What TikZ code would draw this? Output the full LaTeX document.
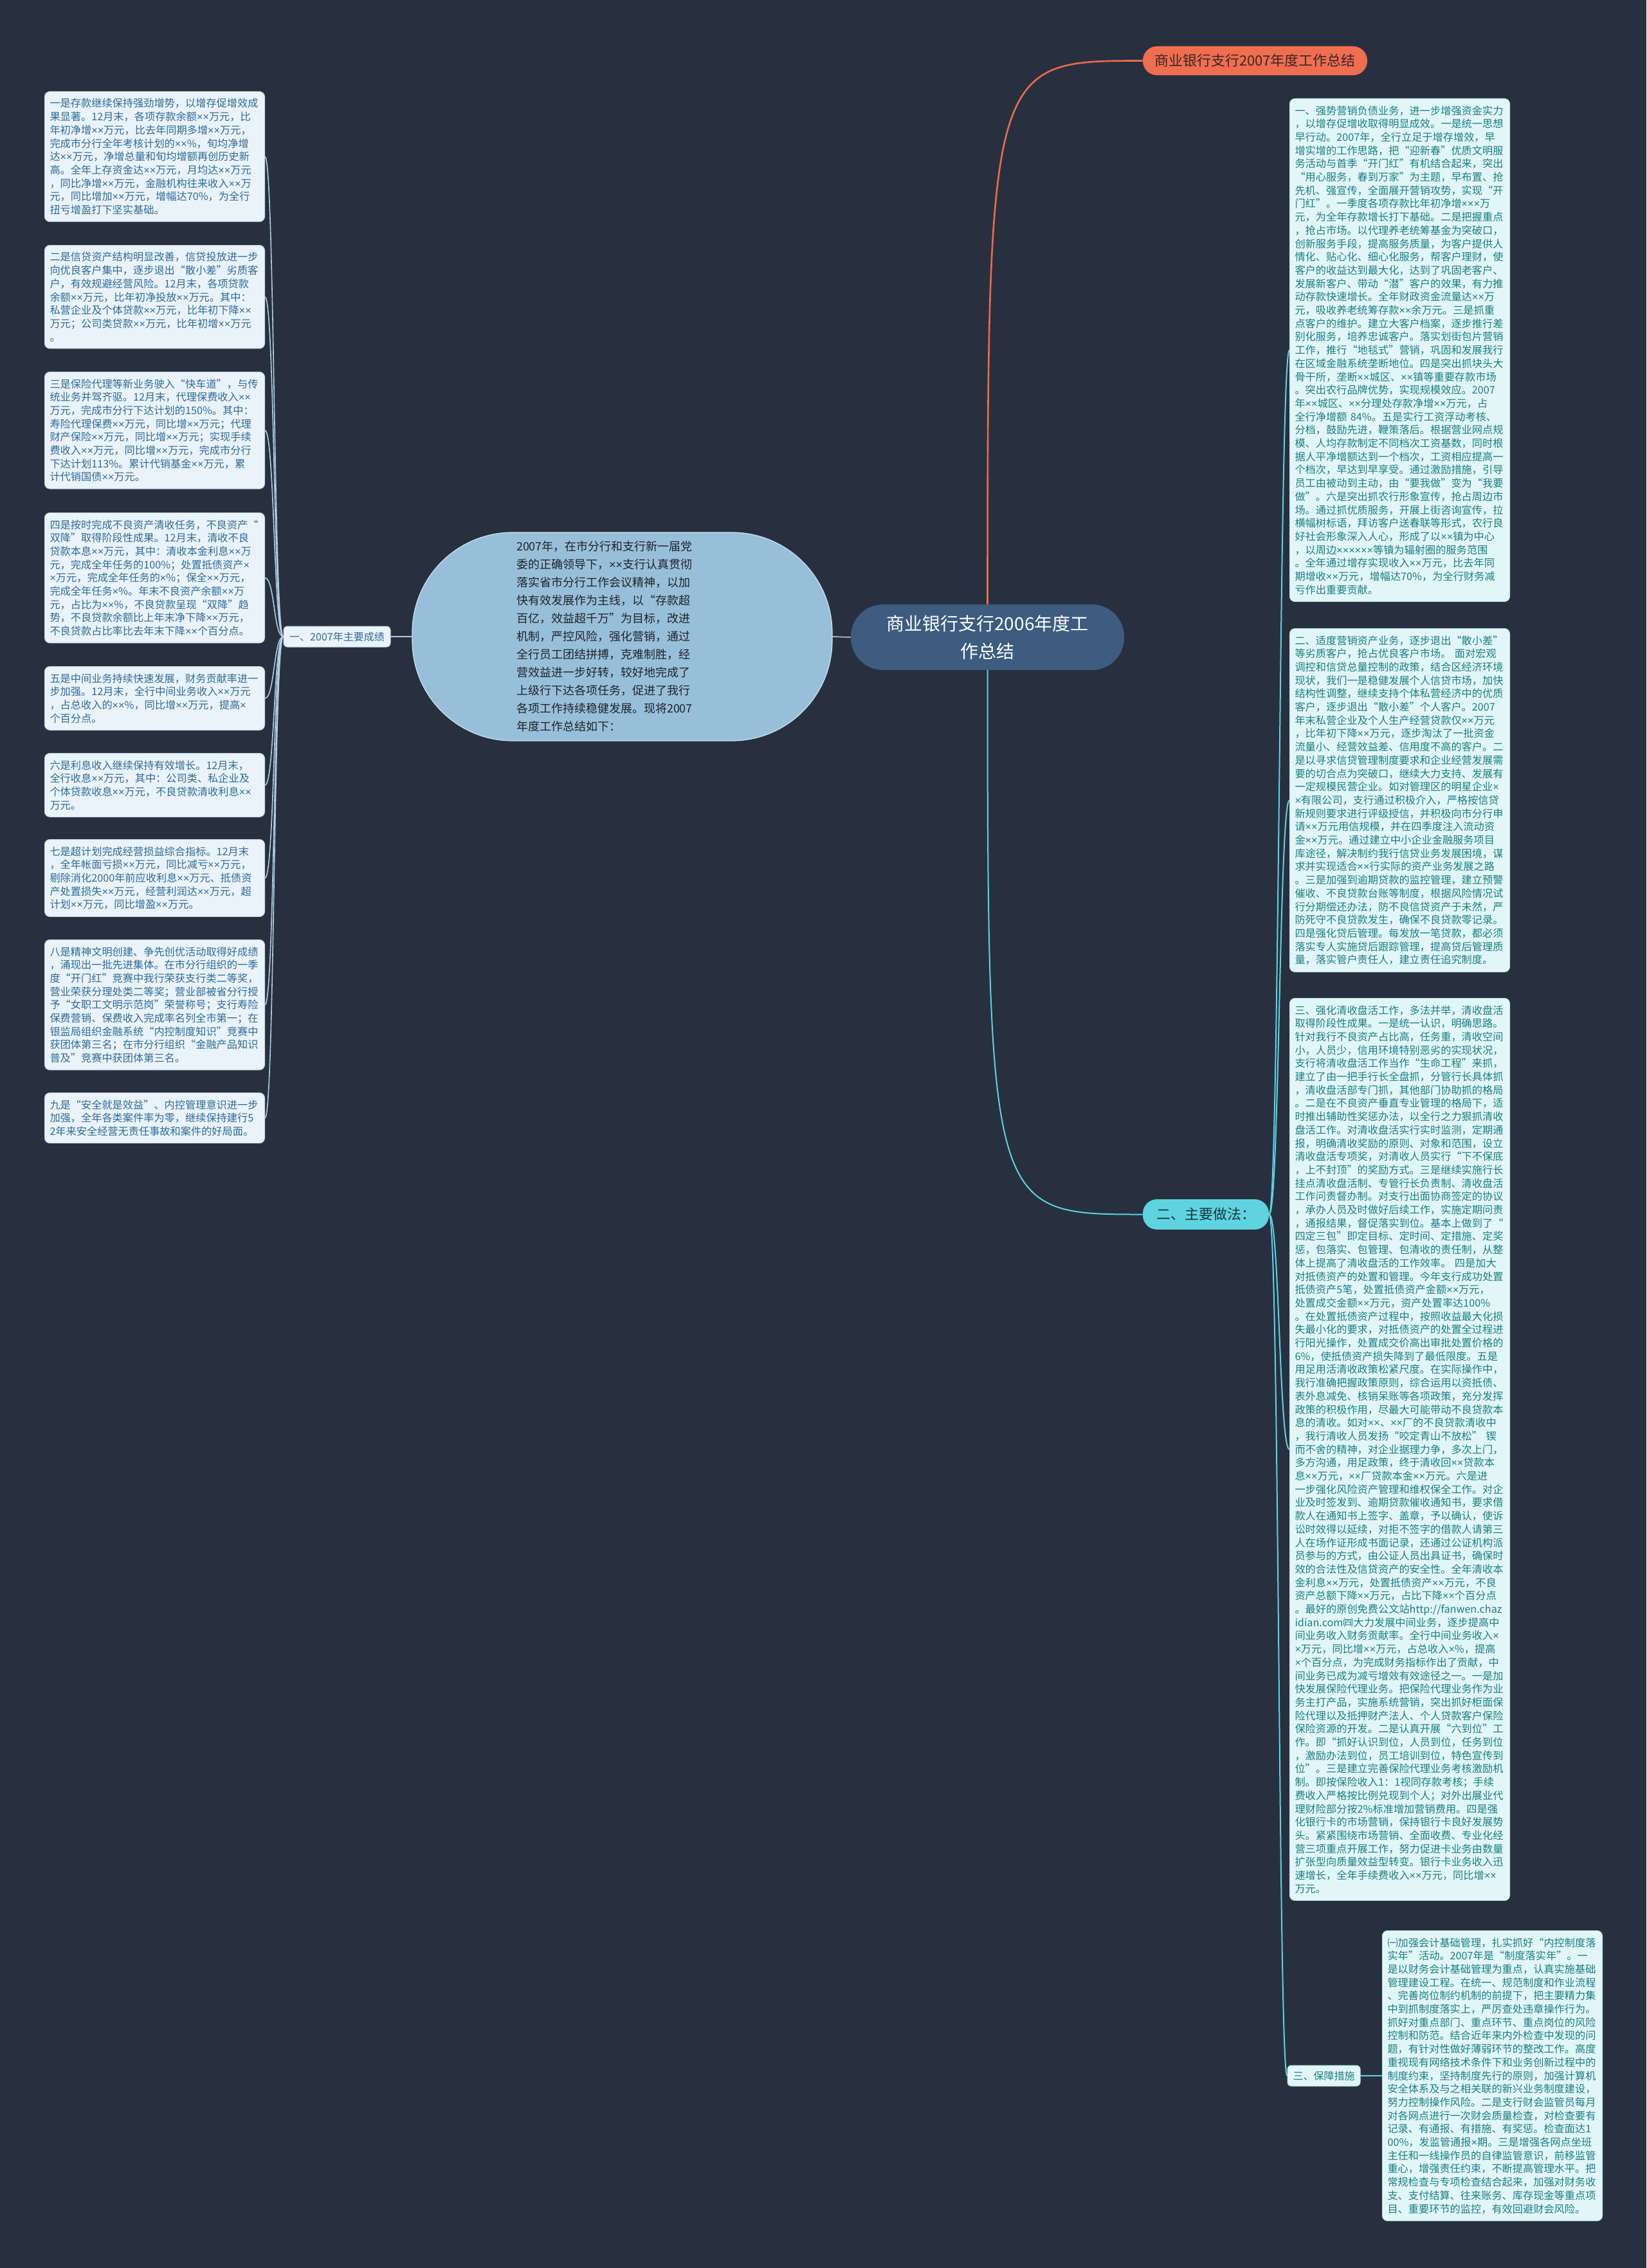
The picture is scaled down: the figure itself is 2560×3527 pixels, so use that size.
\documentclass[tikz,border=0pt]{standalone}
\usepackage{fontspec}
\setmainfont{Noto Sans CJK SC}
\newfontfamily\cjk{Noto Sans CJK SC}
\newfontfamily\latinfont{Liberation Sans}
\hyphenpenalty=10000
\exhyphenpenalty=10000
\usetikzlibrary{calc}
\pgfdeclarelayer{bg}
\pgfdeclarelayer{lines}
\pgfsetlayers{bg,lines,main}
\definecolor{bgc}{HTML}{28303F}
\definecolor{lfill}{HTML}{EAF3F9}
\definecolor{lborder}{HTML}{C5DAEA}
\definecolor{ltext}{HTML}{2E6B98}
\definecolor{rfill}{HTML}{E2F6F8}
\definecolor{rborder}{HTML}{BDE8EC}
\definecolor{rtext}{HTML}{1A7E84}
\definecolor{bubfill}{HTML}{98BFDA}
\definecolor{bubborder}{HTML}{D0E3F0}
\definecolor{bubtext}{HTML}{1F2328}
\definecolor{rootfill}{HTML}{3E5B80}
\definecolor{titlefill}{HTML}{EF6E50}
\definecolor{titletext}{HTML}{3A2626}
\definecolor{mfill}{HTML}{5FD4E0}
\definecolor{mtext}{HTML}{183840}
\definecolor{orangeline}{HTML}{EC6A4C}
\definecolor{cyanline}{HTML}{5CD3DF}
\definecolor{leftline}{HTML}{B0CDE3}
\tikzset{
  boxtext/.style={align=left, text width=163pt, inner xsep=4pt, inner ysep=5.4pt,
    anchor=north west, rounded corners=4pt, line width=0.5pt,
    font=\cjk\fontsize{8.1pt}{10.35pt}\selectfont},
  lbox/.style={boxtext, draw=lborder, fill=lfill, text=ltext},
  rbox/.style={boxtext, draw=rborder, fill=rfill, text=rtext},
  titlebox/.style={fill=titlefill, text=titletext, rounded corners=11pt,
    minimum width=174.5pt, minimum height=22.5pt, inner sep=0pt, font=\cjk\fontsize{11pt}{13pt}\selectfont},
  rootbox/.style={fill=rootfill, text=white, rounded corners=25pt,
    minimum width=212.5pt, minimum height=51pt, inner sep=0pt, align=center,
    font=\cjk\fontsize{14pt}{21.5pt}\selectfont},
  bubble/.style={draw=bubborder, line width=0.6pt, fill=bubfill, text=bubtext, rounded corners=78pt,
    minimum width=326.5pt, minimum height=162pt, inner sep=0pt, text width=164.5pt, align=left,
    font=\cjk\fontsize{9pt}{14pt}\selectfont},
  smalllab/.style={rounded corners=3pt, inner sep=0pt, line width=0.5pt,
    font=\cjk\fontsize{8pt}{10pt}\selectfont},
  llab/.style={smalllab, draw=lborder, fill=lfill, text=ltext, minimum width=83pt, minimum height=16pt},
  slab/.style={smalllab, draw=rborder, fill=rfill, text=rtext, minimum width=56.5pt, minimum height=16pt},
  mlab/.style={fill=mfill, text=mtext, rounded corners=11pt, inner sep=0pt,
    minimum width=98pt, minimum height=23.5pt, font=\cjk\fontsize{11pt}{13pt}\selectfont},
  lconn/.style={draw=leftline, line width=0.8pt},
  rconn/.style={draw=cyanline, line width=1pt},
  oconn/.style={draw=orangeline, line width=1.3pt},
}
\catcode`\×=\active
\def×{{\latinfont\char"00D7}}
\begin{document}
\begin{tikzpicture}[x=0.5pt,y=-0.5pt]
\begin{pgfonlayer}{bg}
\fill[bgc] (0,0) rectangle (2560,3527);
\end{pgfonlayer}
\useasboundingbox (0,0) rectangle (2560,3527);

% main nodes
\node[titlebox] (T) at (1951.5,94.5) {商业银行支行2007年度工作总结};
\node[rootbox] (R) at (1535.5,991) {商业银行支行2006年度工\\作总结};
\node[bubble] (B) at (967.5,990) {2007年，在市分行和支行新一届党\\
委的正确领导下，××支行认真贯彻\\
落实省市分行工作会议精神，以加\\
快有效发展作为主线，以“存款超\\
百亿，效益超千万”为目标，改进\\
机制，严控风险，强化营销，通过\\
全行员工团结拼搏，克难制胜，经\\
营效益进一步好转，较好地完成了\\
上级行下达各项任务，促进了我行\\
各项工作持续稳健发展。现将2007\\
年度工作总结如下：};
\node[llab] (A) at (524,990) {一、2007年主要成绩};
\node[mlab] (M) at (1875,1888.5) {二、主要做法：};
\node[slab] (S) at (2058.5,3228) {三、保障措施};

% left boxes
\node[lbox] (l1) at (69,142) {一是存款继续保持强劲增势，以增存促增效成\\
果显著。12月末，各项存款余额××万元，比\\
年初净增××万元，比去年同期多增××万元，\\
完成市分行全年考核计划的××\%，旬均净增\\
达××万元，净增总量和旬均增额再创历史新\\
高。全年上存资金达××万元，月均达××万元\\
，同比净增××万元，金融机构往来收入××万\\
元，同比增加××万元，增幅达70\%，为全行\\
扭亏增盈打下坚实基础。};
\node[lbox] (l2) at (69,381) {二是信贷资产结构明显改善，信贷投放进一步\\
向优良客户集中，逐步退出“散小差”劣质客\\
户，有效规避经营风险。12月末，各项贷款\\
余额××万元，比年初净投放××万元。其中：\\
私营企业及个体贷款××万元，比年初下降××\\
万元；公司类贷款××万元，比年初增××万元\\
。};
\node[lbox] (l3) at (69,578) {三是保险代理等新业务驶入“快车道”，与传\\
统业务并驾齐驱。12月末，代理保费收入××\\
万元，完成市分行下达计划的150\%。其中：\\
寿险代理保费××万元，同比增××万元；代理\\
财产保险××万元，同比增××万元；实现手续\\
费收入××万元，同比增××万元，完成市分行\\
下达计划113\%。累计代销基金××万元，累\\
计代销国债××万元。};
\node[lbox] (l4) at (69,797) {四是按时完成不良资产清收任务，不良资产“\\
双降”取得阶段性成果。12月末，清收不良\\
贷款本息××万元，其中：清收本金利息××万\\
元，完成全年任务的100\%；处置抵债资产×\\
×万元，完成全年任务的×\%；保全××万元，\\
完成全年任务×\%。年末不良资产余额××万\\
元，占比为××\%，不良贷款呈现“双降”趋\\
势，不良贷款余额比上年末净下降××万元，\\
不良贷款占比率比去年末下降××个百分点。};
\node[lbox] (l5) at (69,1036) {五是中间业务持续快速发展，财务贡献率进一\\
步加强。12月末，全行中间业务收入××万元\\
，占总收入的××\%，同比增××万元，提高×\\
个百分点。};
\node[lbox] (l6) at (69,1171) {六是利息收入继续保持有效增长。12月末，\\
全行收息××万元，其中：公司类、私企业及\\
个体贷款收息××万元，不良贷款清收利息××\\
万元。};
\node[lbox] (l7) at (69,1305) {七是超计划完成经营损益综合指标。12月末\\
，全年帐面亏损××万元，同比减亏××万元，\\
剔除消化2000年前应收利息××万元、抵债资\\
产处置损失××万元，经营利润达××万元，超\\
计划××万元，同比增盈××万元。};
\node[lbox] (l8) at (69,1461) {八是精神文明创建、争先创优活动取得好成绩\\
，涌现出一批先进集体。在市分行组织的一季\\
度“开门红”竞赛中我行荣获支行类二等奖，\\
营业荣获分理处类二等奖；营业部被省分行授\\
予“女职工文明示范岗”荣誉称号；支行寿险\\
保费营销、保费收入完成率名列全市第一；在\\
银监局组织金融系统“内控制度知识”竞赛中\\
获团体第三名；在市分行组织“金融产品知识\\
普及”竞赛中获团体第三名。};
\node[lbox] (l9) at (69,1699) {九是“安全就是效益”、内控管理意识进一步\\
加强，全年各类案件率为零，继续保持建行5\\
2年来安全经营无责任事故和案件的好局面。};

% right boxes
\node[rbox] (r1) at (2005,153) {一、强势营销负债业务，进一步增强资金实力\\
，以增存促增收取得明显成效。一是统一思想\\
早行动。2007年，全行立足于增存增效，早\\
增实增的工作思路，把“迎新春”优质文明服\\
务活动与首季“开门红”有机结合起来，突出\\
“用心服务，春到万家”为主题，早布置、抢\\
先机、强宣传，全面展开营销攻势，实现“开\\
门红”。一季度各项存款比年初净增×××万\\
元，为全年存款增长打下基础。二是把握重点\\
，抢占市场。以代理养老统筹基金为突破口，\\
创新服务手段，提高服务质量，为客户提供人\\
情化、贴心化、细心化服务，帮客户理财，使\\
客户的收益达到最大化，达到了巩固老客户、\\
发展新客户、带动“潜”客户的效果，有力推\\
动存款快速增长。全年财政资金流量达××万\\
元，吸收养老统筹存款××余万元。三是抓重\\
点客户的维护。建立大客户档案，逐步推行差\\
别化服务，培养忠诚客户。落实划街包片营销\\
工作，推行“地毯式”营销，巩固和发展我行\\
在区域金融系统垄断地位。四是突出抓块头大\\
骨干所，垄断××城区、××镇等重要存款市场\\
。突出农行品牌优势，实现规模效应。2007\\
年××城区、××分理处存款净增××万元，占\\
全行净增额~84\%。五是实行工资浮动考核、\\
分档，鼓励先进，鞭策落后。根据营业网点规\\
模、人均存款制定不同档次工资基数，同时根\\
据人平净增额达到一个档次，工资相应提高一\\
个档次，早达到早享受。通过激励措施，引导\\
员工由被动到主动，由“要我做”变为“我要\\
做”。六是突出抓农行形象宣传，抢占周边市\\
场。通过抓优质服务，开展上街咨询宣传，拉\\
横幅树标语，拜访客户送春联等形式，农行良\\
好社会形象深入人心，形成了以××镇为中心\\
，以周边××××××等镇为辐射圈的服务范围\\
。全年通过增存实现收入××万元，比去年同\\
期增收××万元，增幅达70\%，为全行财务减\\
亏作出重要贡献。};
\node[rbox] (r2) at (2005,977) {二、适度营销资产业务，逐步退出“散小差”\\
等劣质客户，抢占优良客户市场。~面对宏观\\
调控和信贷总量控制的政策，结合区经济环境\\
现状，我们一是稳健发展个人信贷市场，加快\\
结构性调整，继续支持个体私营经济中的优质\\
客户，逐步退出“散小差”个人客户。2007\\
年末私营企业及个人生产经营贷款仅××万元\\
，比年初下降××万元，逐步淘汰了一批资金\\
流量小、经营效益差、信用度不高的客户。二\\
是以寻求信贷管理制度要求和企业经营发展需\\
要的切合点为突破口，继续大力支持、发展有\\
一定规模民营企业。如对管理区的明星企业×\\
×有限公司，支行通过积极介入，严格按信贷\\
新规则要求进行评级授信，并积极向市分行申\\
请××万元用信规模，并在四季度注入流动资\\
金××万元。通过建立中小企业金融服务项目\\
库途径，解决制约我行信贷业务发展困境，谋\\
求并实现适合××行实际的资产业务发展之路\\
。三是加强到逾期贷款的监控管理，建立预警\\
催收、不良贷款台账等制度，根据风险情况试\\
行分期偿还办法，防不良信贷资产于未然，严\\
防死守不良贷款发生，确保不良贷款零记录。\\
四是强化贷后管理。每发放一笔贷款，都必须\\
落实专人实施贷后跟踪管理，提高贷后管理质\\
量，落实管户责任人，建立责任追究制度。};
\node[rbox] (r3) at (2005,1552) {三、强化清收盘活工作，多法并举，清收盘活\\
取得阶段性成果。一是统一认识，明确思路。\\
针对我行不良资产占比高，任务重，清收空间\\
小，人员少，信用环境特别恶劣的实现状况，\\
支行将清收盘活工作当作“生命工程”来抓，\\
建立了由一把手行长全盘抓，分管行长具体抓\\
，清收盘活部专门抓，其他部门协助抓的格局\\
。二是在不良资产垂直专业管理的格局下，适\\
时推出辅助性奖惩办法，以全行之力狠抓清收\\
盘活工作。对清收盘活实行实时监测，定期通\\
报，明确清收奖励的原则、对象和范围，设立\\
清收盘活专项奖，对清收人员实行“下不保底\\
，上不封顶”的奖励方式。三是继续实施行长\\
挂点清收盘活制、专管行长负责制、清收盘活\\
工作问责督办制。对支行出面协商签定的协议\\
，承办人员及时做好后续工作，实施定期问责\\
，通报结果，督促落实到位。基本上做到了“\\
四定三包”即定目标、定时间、定措施、定奖\\
惩，包落实、包管理、包清收的责任制，从整\\
体上提高了清收盘活的工作效率。~四是加大\\
对抵债资产的处置和管理。今年支行成功处置\\
抵债资产5笔，处置抵债资产金额××万元，\\
处置成交金额××万元，资产处置率达100\%\\
。在处置抵债资产过程中，按照收益最大化损\\
失最小化的要求，对抵债资产的处置全过程进\\
行阳光操作，处置成交价高出审批处置价格的\\
6\%，使抵债资产损失降到了最低限度。五是\\
用足用活清收政策松紧尺度。在实际操作中，\\
我行准确把握政策原则，综合运用以资抵债、\\
表外息减免、核销呆账等各项政策，充分发挥\\
政策的积极作用，尽最大可能带动不良贷款本\\
息的清收。如对××、××厂的不良贷款清收中\\
，我行清收人员发扬“咬定青山不放松”~锲\\
而不舍的精神，对企业据理力争，多次上门，\\
多方沟通，用足政策，终于清收回××贷款本\\
息××万元，××厂贷款本金××万元。六是进\\
一步强化风险资产管理和维权保全工作。对企\\
业及时签发到、逾期贷款催收通知书，要求借\\
款人在通知书上签字、盖章，予以确认，使诉\\
讼时效得以延续，对拒不签字的借款人请第三\\
人在场作证形成书面记录，还通过公证机构派\\
员参与的方式，由公证人员出具证书，确保时\\
效的合法性及信贷资产的安全性。全年清收本\\
金利息××万元，处置抵债资产××万元，不良\\
资产总额下降××万元，占比下降××个百分点\\
。最好的原创免费公文站http://fanwen.chaz\\
idian.com㈣大力发展中间业务，逐步提高中\\
间业务收入财务贡献率。全行中间业务收入×\\
×万元，同比增××万元，占总收入×\%，提高\\
×个百分点，为完成财务指标作出了贡献，中\\
间业务已成为减亏增效有效途径之一。一是加\\
快发展保险代理业务。把保险代理业务作为业\\
务主打产品，实施系统营销，突出抓好柜面保\\
险代理以及抵押财产法人、个人贷款客户保险\\
保险资源的开发。二是认真开展“六到位”工\\
作。即“抓好认识到位，人员到位，任务到位\\
，激励办法到位，员工培训到位，特色宣传到\\
位”。三是建立完善保险代理业务考核激励机\\
制。即按保险收入1：1视同存款考核；手续\\
费收入严格按比例兑现到个人；对外出展业代\\
理财险部分按2\%标准增加营销费用。四是强\\
化银行卡的市场营销，保持银行卡良好发展势\\
头。紧紧围绕市场营销、全面收费、专业化经\\
营三项重点开展工作，努力促进卡业务由数量\\
扩张型向质量效益型转变。银行卡业务收入迅\\
速增长，全年手续费收入××万元，同比增××\\
万元。};
\node[rbox] (r4) at (2149,3002) {㈠加强会计基础管理，扎实抓好“内控制度落\\
实年”活动。2007年是“制度落实年”。一\\
是以财务会计基础管理为重点，认真实施基础\\
管理建设工程。在统一、规范制度和作业流程\\
、完善岗位制约机制的前提下，把主要精力集\\
中到抓制度落实上，严厉查处违章操作行为。\\
抓好对重点部门、重点环节、重点岗位的风险\\
控制和防范。结合近年来内外检查中发现的问\\
题，有针对性做好薄弱环节的整改工作。高度\\
重视现有网络技术条件下和业务创新过程中的\\
制度约束，坚持制度先行的原则，加强计算机\\
安全体系及与之相关联的新兴业务制度建设，\\
努力控制操作风险。二是支行财会监管员每月\\
对各网点进行一次财会质量检查，对检查要有\\
记录、有通报、有措施、有奖惩。检查面达1\\
00\%，发监管通报×期。三是增强各网点坐班\\
主任和一线操作员的自律监管意识，前移监管\\
重心，增强责任约束，不断提高管理水平。把\\
常规检查与专项检查结合起来，加强对财务收\\
支、支付结算、往来账务、库存现金等重点项\\
目、重要环节的监控，有效回避财会风险。};

% connectors
\begin{pgfonlayer}{lines}
\draw[oconn] (R.center) .. controls (R.center |- T.west) .. (T.west);
\draw[rconn] (R.center) .. controls (R.center |- M.west) .. (M.west);
\draw[lconn] (R.west) -- (B.east);
\draw[lconn] (B.west) -- (A.east);
\foreach \n in {l1,l2,l3,l4,l5,l6,l7,l8,l9}{
  \draw[lconn] (A.west) .. controls +(-15,0) and +(15,0) .. (\n.east);
}
\foreach \n in {r1,r2,r3}{
  \draw[rconn] (M.east) .. controls +(16,0) and +(-16,0) .. (\n.west);
}
\draw[rconn] (M.east) .. controls +(16,0) and +(-14,0) .. (S.west);
\draw[rconn] (S.east) .. controls +(17,0) and +(-17,0) .. (r4.west);
\end{pgfonlayer}
\end{tikzpicture}
\end{document}
